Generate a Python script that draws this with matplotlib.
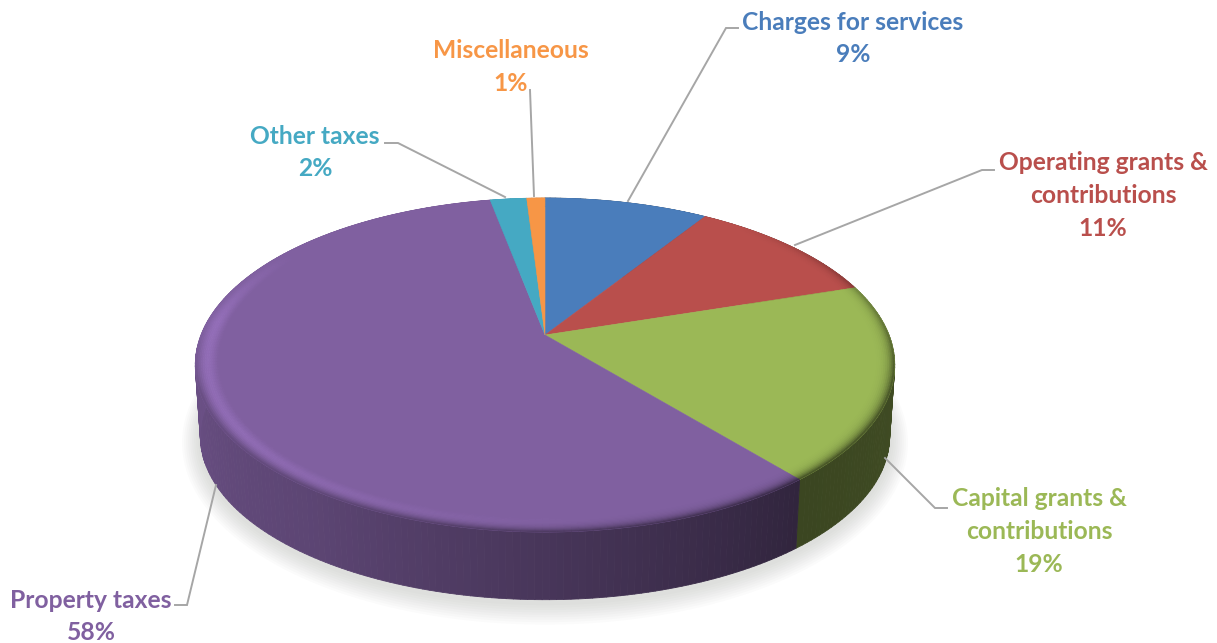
import numpy as np
import matplotlib
matplotlib.use('Agg')
import matplotlib.pyplot as plt
from matplotlib.collections import PolyCollection
from matplotlib.colors import to_rgb

# chart data, clockwise from 12 o'clock
categories = ['Charges for services', 'Operating grants &\ncontributions',
              'Capital grants &\ncontributions', 'Property taxes', 'Other taxes', 'Miscellaneous']
values = [9, 11, 19, 58, 2, 1]
colors = ['#4a7dbb', '#b94f4c', '#9bb856', '#8060a0', '#45a9c3', '#f79646']

# label anchor (center of first line) and leader line, in pixels
label_pos = [(853, 22), (1103, 163), (1039, 499), (91, 600), (315, 136), (511, 51)]
leaders = [[(628, 201), (726, 28), (738, 28)],
           [(795, 245), (982, 170), (994, 170)],
           [(885, 458), (935, 508), (947, 508)],
           [(216, 485), (187, 605), (175, 605)],
           [(505, 197), (398, 143), (385, 143)],
           [(534, 196), (530, 90)]]

# the fake 3d disc: circle seen in perspective
CX, CY, A, B, K = 545, 335, 344, 161.6, 0.18
BOT_CY, BOT_A, BOT_B = 407, 339, 158
RIM = 0.93


def project(t, r=1.0, cx=CX, cy=CY, a=A, b=B):
    t = np.radians(t)
    xx, yy = r * np.sin(t), r * np.cos(t)
    return cx + a * xx / (1 + K * yy), cy - b * yy / (1 + K * yy)


def side_shade(t):
    return np.interp(t, [90, 140, 180, 215, 270], [0.42, 0.38, 0.56, 0.72, 0.84])


def highlight(t):
    return np.interp(t, [170, 235, 275, 305], [0, 1, 1, 0])


def front(t):
    return np.interp(t, [40, 105, 250, 275], [0, 1, 1, 0])


fig = plt.figure(figsize=(12.17, 6.43), dpi=100)
ax = fig.add_axes([0, 0, 1, 1])
ax.set_xlim(0, 1217)
ax.set_ylim(643, 0)
ax.axis('off')

# soft shadow under the disc
tt = np.linspace(0, 360, 361)
for grow in range(18, 0, -2):
    sx, sy = project(tt, 1.0, CX, BOT_CY + 3, BOT_A + grow, BOT_B + grow)
    ax.fill(sx, sy, color='#8a8f84', alpha=0.03, lw=0, zorder=1)

edges = np.concatenate([[0], np.cumsum(values)]) / np.sum(values) * 360

# side wall
polys, cols = [], []
for i, c in enumerate(colors):
    base = np.array(to_rgb(c))
    ts = np.arange(edges[i], edges[i + 1] + 0.5, 1.0)
    ts[-1] = edges[i + 1]
    for t0, t1 in zip(ts[:-1], ts[1:]):
        x0, y0 = project(t0)
        x1, y1 = project(t1)
        x2, y2 = project(t1, 1.0, CX, BOT_CY, BOT_A, BOT_B)
        x3, y3 = project(t0, 1.0, CX, BOT_CY, BOT_A, BOT_B)
        polys.append([(x0, y0), (x1, y1), (x2, y2), (x3, y3)])
        cols.append(base * side_shade((t0 + t1) / 2))
ax.add_collection(PolyCollection(polys, facecolors=cols, edgecolors=cols, linewidths=0.6, zorder=2))

# top faces
for i, c in enumerate(colors):
    ts = np.linspace(edges[i], edges[i + 1], 200)
    x, y = project(ts)
    ax.fill(np.r_[CX, x], np.r_[CY, y], color=c, lw=0.4, zorder=3)

# bevel around the rim of the top face
rs = np.linspace(RIM, 1.0, 15)
polys, cols = [], []
for i, c in enumerate(colors):
    base = np.array(to_rgb(c))
    ts = np.arange(edges[i], edges[i + 1] + 0.5, 1.0)
    ts[-1] = edges[i + 1]
    for t0, t1 in zip(ts[:-1], ts[1:]):
        tm = (t0 + t1) / 2
        for r0, r1 in zip(rs[:-1], rs[1:]):
            u = ((r0 + r1) / 2 - RIM) / (1 - RIM)
            col = base * (1 + 0.16 * highlight(tm) * np.sin(np.pi * min(u * 0.9, 1)) ** 2)
            w = front(tm) * u ** 4
            col = col * (1 - w) + base * side_shade(tm) * w
            x0, y0 = project(t0, r0)
            x1, y1 = project(t1, r0)
            x2, y2 = project(t1, r1)
            x3, y3 = project(t0, r1)
            polys.append([(x0, y0), (x1, y1), (x2, y2), (x3, y3)])
            cols.append(np.clip(col, 0, 1))
ax.add_collection(PolyCollection(polys, facecolors=cols, edgecolors=cols, linewidths=0.3, zorder=4))

# leader lines
for pts in leaders:
    ax.plot(*zip(*pts), color='#a6a6a6', lw=1.4, solid_joinstyle='miter', zorder=5)

# labels, one line of text every 32 pixels
for name, val, c, (lx, ly) in zip(categories, values, colors, label_pos):
    lines = name.split('\n') + [str(val) + '%']
    for j, line in enumerate(lines):
        ax.text(lx, ly + j * 32.5, line, color=c, ha='center', va='center',
                family='Lato', weight='bold', fontsize=17.7, zorder=6)

fig.savefig('out.png', dpi=100)
